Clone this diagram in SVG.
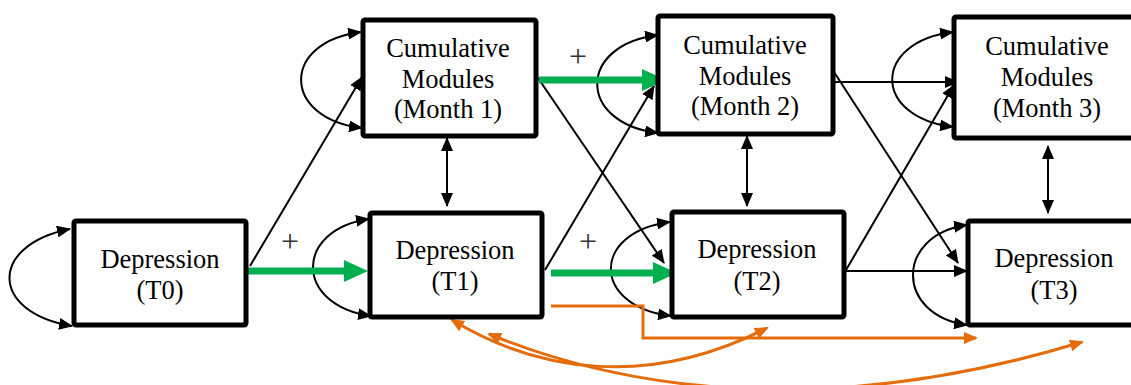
<svg xmlns="http://www.w3.org/2000/svg" width="1131" height="385" viewBox="0 0 1131 385">
<style>
.box{fill:#fff;stroke:#000;stroke-width:5}
.lbl{font-family:'Liberation Serif','Tinos','Times New Roman','DejaVu Serif',serif;font-size:26.5px;fill:#000;text-anchor:middle}
.plus{font-family:'Liberation Serif','Tinos','Times New Roman','DejaVu Serif',serif;font-size:32px;fill:#333;text-anchor:middle}
.blk{fill:none;stroke:#000;stroke-width:2}
.loop{fill:none;stroke:#000;stroke-width:2;marker-start:url(#ab);marker-end:url(#ab)}
.grn{fill:none;stroke:#00B050;stroke-width:7;marker-end:url(#ag)}
.org{fill:none;stroke:#E46C0A;stroke-width:3}
</style>
<defs>
<marker id="ab" markerUnits="userSpaceOnUse" viewBox="0 0 14 12" markerWidth="14" markerHeight="12" refX="13" refY="6" orient="auto-start-reverse"><path d="M0,0 L14,6 L0,12 z" fill="#000"/></marker>
<marker id="ag" markerUnits="userSpaceOnUse" viewBox="0 0 24 22" markerWidth="24" markerHeight="22" refX="3" refY="11" orient="auto"><path d="M0,0 L24,11 L0,22 z" fill="#00B050"/></marker>
<marker id="ao" markerUnits="userSpaceOnUse" viewBox="0 0 14 12" markerWidth="14" markerHeight="12" refX="12" refY="6" orient="auto-start-reverse"><path d="M0,0 L14,6 L0,12 z" fill="#E46C0A"/></marker>
</defs>
<rect width="1131" height="385" fill="#fff"/>

<g id="connectors">
  <path class="loop" d="M 70,229 C -11,245 -11,312 72,326"/>
  <path class="loop" d="M 361,32 C 281,42 281,118 362,128"/>
  <path class="loop" d="M 369,219 C 294,230 294,305 371,316"/>
  <path class="loop" d="M 658,35 C 577,45 577,123 658,133"/>
  <path class="loop" d="M 670,222 C 591,232 591,306 671,316"/>
  <path class="loop" d="M 953,32 C 872,42 872,117 953,127"/>
  <path class="loop" d="M 967,225 C 895,235 895,315 967,325"/>
  <line class="blk" x1="447" y1="138" x2="447" y2="206" marker-start="url(#ab)" marker-end="url(#ab)"/>
  <line class="blk" x1="747" y1="136" x2="747" y2="206" marker-start="url(#ab)" marker-end="url(#ab)"/>
  <line class="blk" x1="1048" y1="146" x2="1048" y2="213" marker-start="url(#ab)" marker-end="url(#ab)"/>
  <line class="blk" x1="250" y1="266" x2="362" y2="77" marker-end="url(#ab)"/>
  <line class="blk" x1="538" y1="78" x2="664" y2="263" marker-end="url(#ab)"/>
  <line class="blk" x1="545" y1="270" x2="654" y2="86" marker-end="url(#ab)"/>
  <line class="blk" x1="834" y1="82" x2="958" y2="82" marker-end="url(#ab)"/>
  <line class="blk" x1="834" y1="72" x2="958" y2="263" marker-end="url(#ab)"/>
  <line class="blk" x1="846" y1="270" x2="954" y2="85" marker-end="url(#ab)"/>
  <line class="blk" x1="846" y1="271" x2="967" y2="271" marker-end="url(#ab)"/>
  <line class="grn" x1="242" y1="271" x2="347" y2="271"/>
  <line class="grn" x1="539" y1="80" x2="645" y2="80"/>
  <line class="grn" x1="551" y1="273" x2="656" y2="273"/>
  <polyline class="org" points="551,306 643,306 643,338 976,338" marker-end="url(#ao)"/>
  <path class="org" d="M 452,320 C 540,373 650,388 767,328" marker-start="url(#ao)" marker-end="url(#ao)"/>
  <path class="org" d="M 489,334 C 620,388 820,422 1082,342" marker-start="url(#ao)" marker-end="url(#ao)"/>
  <text class="plus" x="290" y="252">+</text>
  <text class="plus" x="578" y="67">+</text>
  <text class="plus" x="588" y="252">+</text>
</g>

<g id="T0">
  <rect class="box" x="74" y="221" width="172" height="104" rx="2"/>
  <text class="lbl" x="160" y="268">Depression</text>
  <text class="lbl" x="160" y="299">(T0)</text>
</g>
<g id="M1">
  <rect class="box" x="363" y="20" width="173" height="116" rx="2"/>
  <text class="lbl" x="448" y="57">Cumulative</text>
  <text class="lbl" x="448" y="88">Modules</text>
  <text class="lbl" x="448" y="118">(Month 1)</text>
</g>
<g id="T1">
  <rect class="box" x="370" y="213" width="172" height="104" rx="2"/>
  <text class="lbl" x="455" y="259">Depression</text>
  <text class="lbl" x="455" y="290">(T1)</text>
</g>
<g id="M2">
  <rect class="box" x="658" y="16" width="175" height="118" rx="2"/>
  <text class="lbl" x="745" y="54">Cumulative</text>
  <text class="lbl" x="745" y="85">Modules</text>
  <text class="lbl" x="745" y="115">(Month 2)</text>
</g>
<g id="T2">
  <rect class="box" x="672" y="212" width="172" height="105" rx="2"/>
  <text class="lbl" x="757" y="258">Depression</text>
  <text class="lbl" x="757" y="290">(T2)</text>
</g>
<g id="M3">
  <rect class="box" x="954" y="17" width="190" height="121" rx="2"/>
  <text class="lbl" x="1047" y="55">Cumulative</text>
  <text class="lbl" x="1047" y="86">Modules</text>
  <text class="lbl" x="1047" y="117">(Month 3)</text>
</g>
<g id="T3">
  <rect class="box" x="968" y="221" width="176" height="104" rx="2"/>
  <text class="lbl" x="1054" y="267">Depression</text>
  <text class="lbl" x="1054" y="299">(T3)</text>
</g>
</svg>
